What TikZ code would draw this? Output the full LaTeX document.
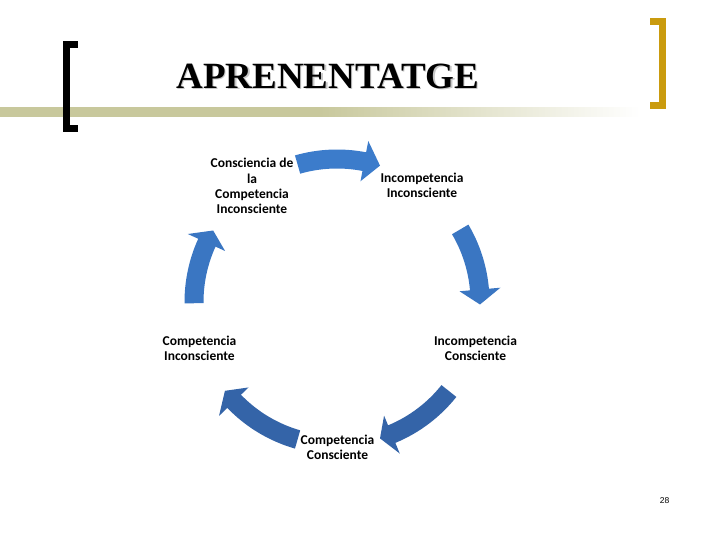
\documentclass[tikz,border=0pt]{standalone}
\usepackage{fontspec}
\setmainfont{Carlito}
\newfontfamily\titlefont{Liberation Serif}
\newfontfamily\numfont{Liberation Sans}
\definecolor{bandcol}{RGB}{200,200,156}
\definecolor{goldcol}{RGB}{202,155,14}
\definecolor{arrA}{RGB}{60,124,203}
\definecolor{arrB}{RGB}{58,118,194}
\definecolor{arrC}{RGB}{52,100,168}
\pgfdeclarehorizontalshading{bandshade}{100bp}{color(0bp)=(bandcol); color(25bp)=(bandcol); color(50bp)=(bandcol); color(75bp)=(white); color(100bp)=(white)}
\newcommand\cyclearrow[4]{%
  \fill[#4, shift={(337,-302)}] (#1:152.5) arc[start angle=#1, end angle=#2, radius=152.5]
    -- (#2:164) -- (#3:143) -- (#2:123) -- (#2:133.5)
    arc[start angle=#2, end angle=#1, radius=133.5] -- cycle;}
\tikzset{lbl/.style={align=center, font=\bfseries\fontsize{13.5}{15.3}\selectfont, inner sep=0pt},
  ttl/.style={font=\titlefont\bfseries\fontsize{37}{42}\selectfont, inner sep=0pt}}
\begin{document}
\begin{tikzpicture}[x=1pt,y=1pt]
\useasboundingbox (0,0) rectangle (720,-540);
\fill[white] (0,0) rectangle (720,-540);
% band
\shade[shading=bandshade] (0,-107.7) rectangle (640,-116.7);
% left bracket
\fill[black] (62.7,-41) rectangle (70,-131.7);
\fill[black] (62.7,-41) rectangle (77.7,-48.3);
\fill[black] (62.7,-124.7) rectangle (77.7,-131.7);
% right bracket
\fill[goldcol] (659.3,-17.7) rectangle (666,-109);
\fill[goldcol] (650,-17.7) rectangle (666,-24.7);
\fill[goldcol] (650,-102) rectangle (666,-109);
% title
\node[ttl, text=black!22] at (329.2,-77.2) {APRENENTATGE};
\node[ttl] (title) at (328,-76) {APRENENTATGE};
% arrows
\cyclearrow{106}{79}{72.5}{arrA}
\cyclearrow{30.5}{5}{-1}{arrB}
\cyclearrow{180.5}{155.5}{150}{arrB}
\cyclearrow{-38.5}{-67.5}{-72.5}{arrC}
\cyclearrow{-106}{-136}{-141.6}{arrC}
% labels
\node[lbl] (cci) at (252,-186) {Consciencia de\\la\\Competencia\\Inconsciente};
\node[lbl] (ii) at (422,-185.5) {Incompetencia\\Inconsciente};
\node[lbl] (ic) at (475.5,-348) {Incompetencia\\Consciente};
\node[lbl] (cc) at (337.5,-447.5) {Competencia\\Consciente};
\node[lbl] (ci) at (199.5,-348) {Competencia\\Inconsciente};
% page number
\node[font=\numfont\fontsize{8.5}{10}\selectfont, inner sep=0pt] (pg) at (664.5,-500.5) {28};
\end{tikzpicture}
\end{document}
